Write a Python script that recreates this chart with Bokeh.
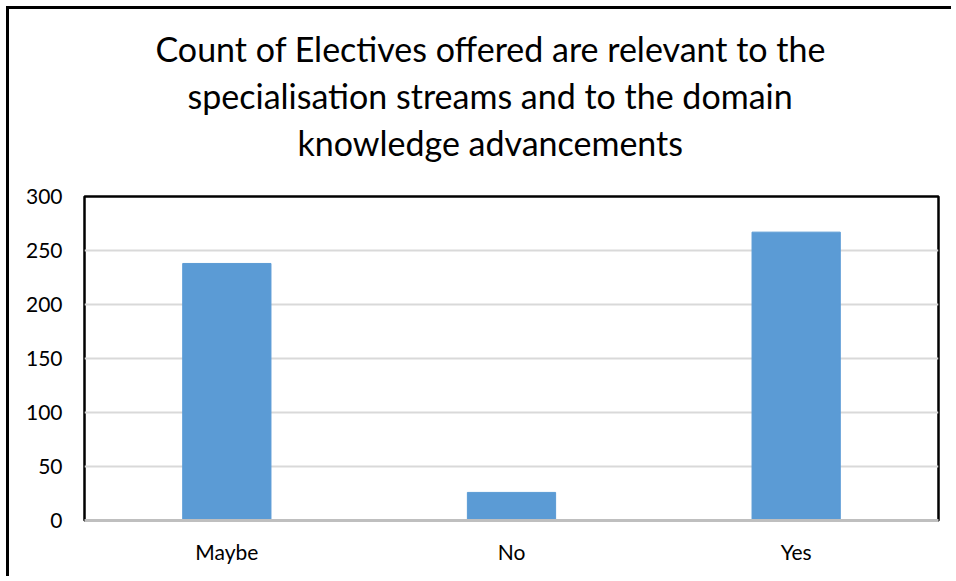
from bokeh.plotting import figure
from bokeh.models import Title, FixedTicker
from bokeh.embed import file_html
from bokeh.resources import INLINE

categories = ["Maybe", "No", "Yes"]
counts = [238, 26, 267]
y_ticks = [0, 50, 100, 150, 200, 250, 300]
title_lines = [
    "Count of Electives offered are relevant to the",
    "specialisation streams and to the domain",
    "knowledge advancements",
]

FONT = "Lato"
W, H = 945, 570

p = figure(x_range=categories, y_range=(0, 300), width=W, height=H, title=None,
           output_backend="svg", toolbar_location=None,
           min_border_left=75, min_border_right=16,
           min_border_top=187, min_border_bottom=59)
p.margin = (6, 0, 0, 6)
p.styles = {"border-left": "3px solid black", "border-top": "3px solid black"}

# spacer between the title block and the plot frame
p.add_layout(Title(text=" ", text_font_size="1px", standoff=29), "above")

# first added sits nearest the frame; offsets center each line near x=489
offsets = [213, 103, 71]
standoffs = [4, 3, 5]
for line, off, so in zip(reversed(title_lines), offsets, standoffs):
    p.add_layout(Title(text=line, align="left", offset=off, standoff=so,
                       text_font=FONT, text_font_size="34px", text_font_style="normal",
                       text_color="black"), "above")

p.vbar(x=categories, top=counts, width=0.31, color="#5b9bd5")

p.outline_line_color = "black"
p.outline_line_width = 2.5
p.x_range.range_padding = 0

p.yaxis.ticker = FixedTicker(ticks=y_ticks)
p.yaxis.axis_line_color = None
p.yaxis.major_tick_line_color = None
p.yaxis.major_tick_out = 0
p.yaxis.minor_tick_line_color = None
p.yaxis.major_label_standoff = 22
p.yaxis.major_label_text_font = FONT
p.yaxis.major_label_text_font_size = "21px"
p.yaxis.major_label_text_color = "black"

p.xaxis.axis_line_color = "#bfbfbf"
p.xaxis.axis_line_width = 3
p.xaxis.major_tick_line_color = None
p.xaxis.major_tick_out = 0
p.xaxis.minor_tick_line_color = None
p.xaxis.major_label_standoff = 18
p.xaxis.major_label_text_font = FONT
p.xaxis.major_label_text_font_size = "21px"
p.xaxis.major_label_text_color = "black"

p.xgrid.grid_line_color = None
p.ygrid.grid_line_color = "#d9d9d9"
p.ygrid.grid_line_width = 2

open("out.html", "w").write(file_html(p, INLINE))
